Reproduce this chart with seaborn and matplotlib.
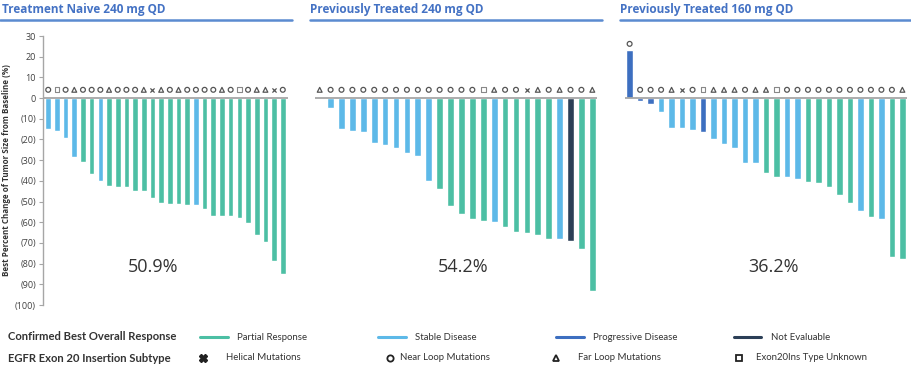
import numpy as np
import pandas as pd
import matplotlib
matplotlib.use("Agg")
import matplotlib.pyplot as plt
import matplotlib.transforms as mtransforms
import seaborn as sns
from matplotlib.lines import Line2D

# ---------------- data ----------------
titles = ["Treatment Naive 240 mg QD", "Previously Treated 240 mg QD", "Previously Treated 160 mg QD"]
orr_labels = ["50.9%", "54.2%", "36.2%"]

naive_values = [-14.8, -15.8, -19.3, -28.5, -30.9, -36.5, -40.0, -42.3, -42.8, -42.9, -44.7, -45.0,
                -48.4, -50.6, -51.1, -51.1, -51.6, -51.9, -53.4, -56.8, -56.8, -56.8, -58.0, -60.3,
                -66.1, -69.5, -78.5, -85.2]
naive_response = ["SD", "SD", "SD", "SD", "PR", "PR", "SD", "PR", "PR", "PR", "PR", "PR", "PR", "PR",
                  "PR", "PR", "PR", "SD", "PR", "PR", "PR", "PR", "PR", "PR", "PR", "PR", "PR", "PR"]
naive_subtype = ["N", "U", "N", "F", "N", "N", "N", "F", "N", "N", "N", "F", "H", "F", "N", "F",
                 "N", "N", "N", "N", "F", "N", "U", "N", "F", "F", "H", "N"]

pt240_values = [-0.5, -4.8, -15.1, -15.9, -16.6, -21.5, -22.7, -24.0, -26.4, -28.1, -39.9, -43.9,
                -52.3, -55.8, -58.2, -59.6, -60.1, -62.1, -64.5, -65.3, -66.1, -68.3, -68.3, -69.0,
                -72.8, -93.4]
pt240_response = ["SD"] * 11 + ["PR"] * 5 + ["SD"] + ["PR"] * 5 + ["SD", "NE", "PR", "PR"]
pt240_subtype = ["F"] + ["N"] * 14 + ["U", "F", "N", "N", "H", "F", "N", "F", "N", "N", "F"]

pt160_values = [23.2, -1.3, -3.1, -6.9, -14.6, -14.6, -15.4, -16.2, -19.8, -22.3, -24.0, -31.5,
                -31.5, -36.2, -38.0, -38.0, -39.1, -40.7, -41.2, -43.0, -46.9, -50.8, -54.7, -57.6,
                -58.2, -77.0, -77.8]
pt160_response = ["PD", "PD", "PD", "SD", "SD", "SD", "SD", "PD", "SD", "SD", "SD", "SD", "SD",
                  "PR", "PR", "SD", "SD", "PR", "PR", "PR", "PR", "PR", "SD", "PR", "SD", "PR", "PR"]
pt160_subtype = ["N", "N", "N", "N", "F", "H", "N", "U", "F", "F", "F", "N", "F", "F", "U"] + ["N"] * 11 + ["F"]

yticks = [30, 20, 10, 0, -10, -20, -30, -40, -50, -60, -70, -80, -90, -100]
ytick_labels = ["30", "20", "10", "0", "(10)", "(20)", "(30)", "(40)", "(50)", "(60)", "(70)",
                "(80)", "(90)", "(100)"]

response_names = ["Partial Response", "Stable Disease", "Progressive Disease", "Not Evaluable"]
subtype_names = ["Helical Mutations", "Near Loop Mutations", "Far Loop Mutations", "Exon20Ins Type Unknown"]

# ---------------- style ----------------
sns.set_theme(style="white")
plt.rcParams['font.family'] = ['Open Sans', 'DejaVu Sans']

pal = {"PR": "#4cbfa4", "SD": "#5db9e8", "PD": "#3d6fc0", "NE": "#2c3f57"}
title_col = "#4472c4"
line_col = "#5b8bd0"
mk_col = "#555555"
marker_style = {"N": "o", "F": "^", "U": "s", "H": "x"}

W, H = 912, 366
fig = plt.figure(figsize=(W / 100, H / 100), dpi=100)

def px_axes(left, right, top=36, bottom=305):
    return fig.add_axes([left / W, 1 - bottom / H, (right - left) / W, (bottom - top) / H])

panels = [
    (naive_values, naive_response, naive_subtype, (43, 288), 0.60, 0.65, 0.449),
    (pt240_values, pt240_response, pt240_subtype, (315, 597), 0.43, 0.62, 0.525),
    (pt160_values, pt160_response, pt160_subtype, (625, 907), 0.44, 0.60, 0.525),
]
title_x = [2, 310, 620]
underline = [(0, 292), (310, 602), (620, 912)]

for i, (vals, resp, sub, (l, r), margin, bw, orr_x) in enumerate(panels):
    ax = px_axes(l, r)
    n = len(vals)
    df = pd.DataFrame({"idx": np.arange(n), "value": vals, "response": resp, "subtype": sub})
    sns.barplot(data=df, x="idx", y="value", hue="response", palette=pal, dodge=False,
                width=bw, saturation=1, ax=ax, legend=False, order=list(range(n)))
    # markers
    mk_y = np.where(df["value"] > 0, df["value"] + 3.0, 4.0)
    for code, m in marker_style.items():
        sel = df["subtype"] == code
        if not sel.any():
            continue
        if code == "H":
            ax.scatter(df["idx"][sel], mk_y[sel], marker="x", s=9, c=mk_col, linewidths=0.9, zorder=5)
        elif code == "U":
            ax.scatter(df["idx"][sel], mk_y[sel], marker="s", s=11, facecolors="none",
                       edgecolors="#888888", linewidths=0.8, zorder=5)
        else:
            ax.scatter(df["idx"][sel], mk_y[sel], marker=m, s=12, facecolors="none",
                       edgecolors=mk_col, linewidths=0.9, zorder=5)
    ax.axhline(0, color="#a6a6a6", lw=1.3, zorder=4)
    ax.set_xlim(-margin, n - 1 + margin)
    ax.set_ylim(-100, 30)
    ax.set_xlabel("")
    ax.set_ylabel("")
    ax.set_xticks([])
    for s in ["top", "right", "bottom"]:
        ax.spines[s].set_visible(False)
    if i == 0:
        ax.spines["left"].set_color("#a6a6a6")
        ax.spines["left"].set_linewidth(1.0)
        ax.set_yticks(yticks)
        ax.set_yticklabels(ytick_labels, fontsize=6.5, color="#404040")
        ax.tick_params(axis="y", length=3, width=0.8, color="#a6a6a6", pad=2, left=True)
        ax.set_ylabel("Best Percent Change of Tumor Size from Baseline (%)", fontsize=5.8,
                      fontweight="bold", color="#333333", labelpad=3)
    else:
        ax.spines["left"].set_visible(False)
        ax.set_yticks([])
    ax.patch.set_alpha(0)
    ax.text(orr_x, -81.6, orr_labels[i],
            transform=mtransforms.blended_transform_factory(ax.transAxes, ax.transData),
            ha="center", va="center", fontsize=13, color="#333333")
    # titles
    fig.text(title_x[i] / W, 1 - 9 / H, titles[i], ha="left", va="center", fontsize=8.5,
             fontweight="bold", color=title_col)
    x0, x1 = underline[i]
    fig.add_artist(Line2D([x0 / W, x1 / W], [1 - 19.5 / H, 1 - 19.5 / H], color=line_col, lw=1.8,
                          transform=fig.transFigure))

# ---------------- legend ----------------
bfont = dict(fontsize=8.1, color="#333333", family=['Lato', 'DejaVu Sans'], fontweight="bold")
lfont = dict(fontsize=6.9, color="#333333", family=['Lato', 'DejaVu Sans'])
y1 = 1 - 337 / H
y2 = 1 - 358 / H
fig.text(8 / W, y1, "Confirmed Best Overall Response", ha="left", va="center", **bfont)
fig.text(8 / W, y2, "EGFR Exon 20 Insertion Subtype", ha="left", va="center", **bfont)

resp_codes = ["PR", "SD", "PD", "NE"]
line_x = [(200, 228), (378, 406), (556, 584), (734, 761)]
text_x = [237, 415, 593, 771]
for code, name, (a, b), tx in zip(resp_codes, response_names, line_x, text_x):
    fig.add_artist(Line2D([a / W, b / W], [y1, y1], color=pal[code], lw=2.2, transform=fig.transFigure))
    fig.text(tx / W, y1, name, ha="left", va="center", **lfont)

mk_x = [203, 390, 556, 739]
mk_text_x = [226, 400, 578, 756]
leg_markers = [("X", "full"), ("o", "none"), ("^", "none"), ("s", "none")]
for (m, fill), name, mx, tx in zip(leg_markers, subtype_names, mk_x, mk_text_x):
    if fill == "full":
        fig.add_artist(Line2D([mx / W], [y2], marker="X", color="#222222", markersize=5.5, ls="",
                              transform=fig.transFigure))
    else:
        fig.add_artist(Line2D([mx / W], [y2], marker=m, markerfacecolor="none", markeredgecolor="#222222",
                              markeredgewidth=1.3, markersize=4.5, ls="", transform=fig.transFigure))
    fig.text(tx / W, y2, name, ha="left", va="center", **lfont)

fig.savefig("out.png", dpi=100)
